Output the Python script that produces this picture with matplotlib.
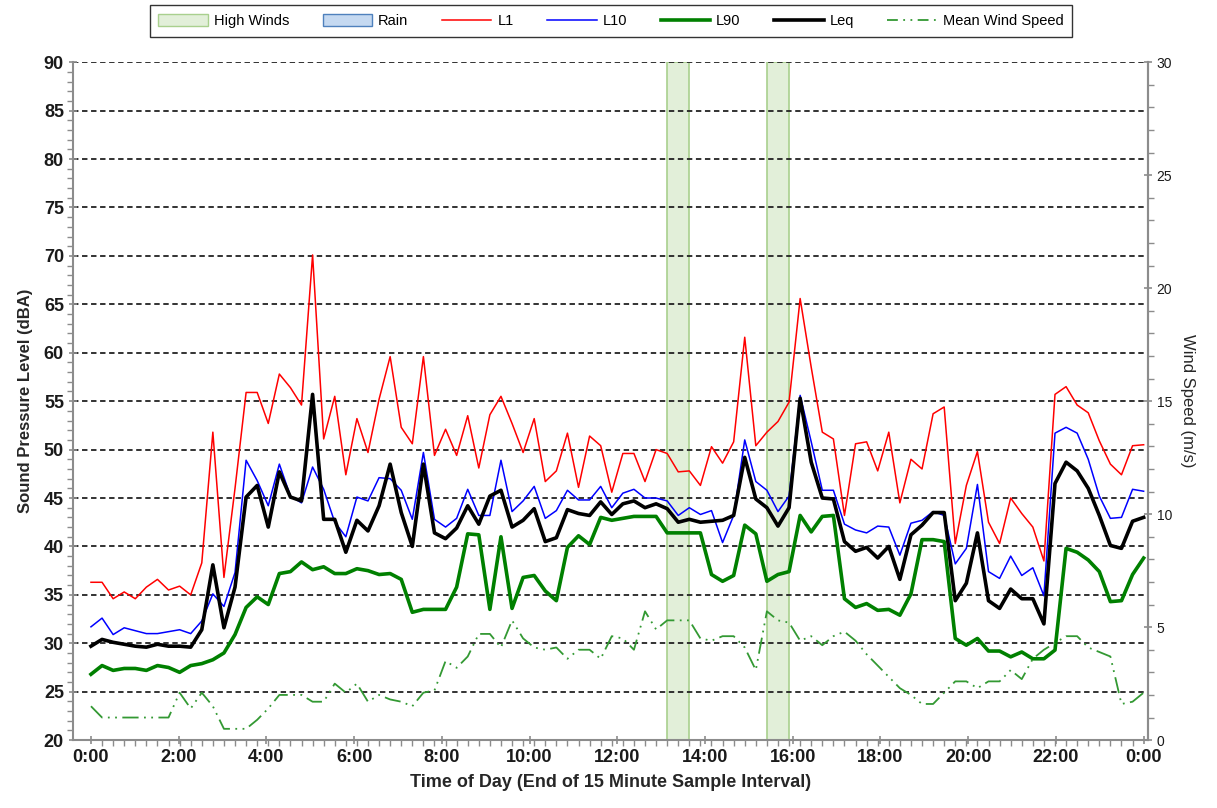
import numpy as np
import matplotlib.pyplot as plt
from matplotlib.patches import Patch
from matplotlib.lines import Line2D
from matplotlib.ticker import MultipleLocator

# -----------------------------
# Global style
# -----------------------------
plt.rcParams["font.family"] = ["Liberation Sans", "DejaVu Sans"]

# -----------------------------
# Data: 96 x 15-minute samples
# -----------------------------
L1 = [36.3, 36.3, 34.6, 35.3, 34.6, 35.8, 36.6, 35.5, 35.9, 35.0, 38.3, 51.8, 36.8, 46.0, 55.9, 55.9,
      52.7, 57.8, 56.4, 54.6, 70.1, 51.1, 55.5, 47.4, 53.2, 49.7, 55.2, 59.6, 52.3, 50.6, 59.6, 49.4,
      52.1, 49.4, 53.5, 48.1, 53.6, 55.5, 52.7, 49.7, 53.2, 46.7, 47.8, 51.7, 46.1, 51.4, 50.4, 45.6,
      49.6, 49.6, 46.7, 50.0, 49.6, 47.7, 47.8, 46.3, 50.3, 48.6, 50.8, 61.6, 50.4, 51.8, 52.9, 54.9,
      65.6, 58.5, 51.8, 51.1, 43.2, 50.6, 50.8, 47.8, 51.8, 44.5, 49.0, 48.0, 53.7, 54.4, 40.3, 46.3,
      49.8, 42.5, 40.3, 45.0, 43.4, 42.0, 38.5, 55.7, 56.5, 54.6, 53.8, 50.9, 48.5, 47.4, 50.4, 50.5]

L10 = [31.7, 32.6, 30.9, 31.6, 31.3, 31.0, 31.0, 31.2, 31.4, 31.0, 32.3, 35.1, 33.8, 37.3, 48.9, 46.8,
       44.2, 48.5, 45.2, 44.5, 48.2, 45.9, 42.5, 41.0, 45.1, 44.7, 47.1, 47.0, 45.8, 42.8, 49.7, 42.8,
       42.0, 42.9, 45.9, 43.2, 43.2, 48.9, 43.6, 44.7, 46.2, 42.9, 43.7, 45.8, 44.8, 44.8, 46.2, 44.0,
       45.5, 45.9, 45.0, 45.0, 44.7, 43.2, 44.0, 43.3, 43.7, 40.4, 43.2, 51.0, 46.7, 45.8, 43.6, 45.2,
       55.6, 50.8, 45.8, 45.8, 42.3, 41.7, 41.4, 42.1, 42.0, 39.1, 42.4, 42.7, 43.6, 43.2, 38.2, 39.8,
       46.4, 37.4, 36.7, 39.0, 37.0, 37.8, 34.9, 51.7, 52.3, 51.7, 49.0, 45.2, 42.9, 43.0, 45.9, 45.7]

L90 = [26.8, 27.7, 27.2, 27.4, 27.4, 27.2, 27.7, 27.5, 27.0, 27.7, 27.9, 28.3, 29.0, 30.9, 33.7, 34.8,
       34.0, 37.2, 37.4, 38.4, 37.6, 37.9, 37.2, 37.2, 37.7, 37.5, 37.1, 37.2, 36.6, 33.2, 33.5, 33.5,
       33.5, 35.8, 41.3, 41.2, 33.5, 41.0, 33.6, 36.8, 37.0, 35.4, 34.4, 39.9, 41.1, 40.2, 43.0, 42.7,
       42.9, 43.1, 43.1, 43.1, 41.4, 41.4, 41.4, 41.4, 37.1, 36.4, 37.0, 42.2, 41.3, 36.4, 37.1, 37.4,
       43.2, 41.5, 43.1, 43.2, 34.6, 33.7, 34.1, 33.4, 33.5, 32.9, 35.1, 40.7, 40.7, 40.5, 30.5, 29.8,
       30.5, 29.2, 29.2, 28.6, 29.1, 28.4, 28.4, 29.3, 39.8, 39.4, 38.6, 37.4, 34.3, 34.4, 37.1, 38.8]

Leq = [29.7, 30.4, 30.1, 29.9, 29.7, 29.6, 29.9, 29.7, 29.7, 29.6, 31.4, 38.1, 31.6, 35.8, 45.1, 46.3,
       42.0, 47.7, 45.1, 44.7, 55.7, 42.8, 42.8, 39.4, 42.7, 41.6, 44.2, 48.5, 43.5, 40.0, 48.5, 41.4,
       40.8, 41.9, 44.2, 42.3, 45.2, 45.8, 42.0, 42.7, 43.9, 40.5, 40.9, 43.8, 43.4, 43.2, 44.6, 43.3,
       44.4, 44.7, 44.0, 44.4, 43.9, 42.5, 42.8, 42.5, 42.6, 42.7, 43.2, 49.2, 44.9, 44.0, 42.1, 44.0,
       55.3, 48.7, 45.0, 44.9, 40.5, 39.5, 39.9, 38.8, 40.0, 36.6, 41.2, 42.2, 43.5, 43.5, 34.4, 36.2,
       41.4, 34.4, 33.6, 35.6, 34.6, 34.6, 32.0, 46.5, 48.7, 47.8, 46.0, 43.2, 40.1, 39.8, 42.6, 43.0]

wind_speed = [1.5, 1.0, 1.0, 1.0, 1.0, 1.0, 1.0, 1.0, 2.1, 1.4, 2.1, 1.5, 0.5, 0.5, 0.5, 0.9,
              1.4, 2.0, 2.0, 2.0, 1.7, 1.7, 2.5, 2.1, 2.5, 1.7, 2.0, 1.8, 1.7, 1.5, 2.1, 2.2,
              3.5, 3.2, 3.7, 4.7, 4.7, 4.1, 5.3, 4.5, 4.1, 4.0, 4.1, 3.6, 4.0, 4.0, 3.6, 4.6,
              4.5, 4.0, 5.7, 4.9, 5.3, 5.3, 5.3, 4.5, 4.4, 4.6, 4.6, 4.1, 3.1, 5.7, 5.3, 5.2,
              4.4, 4.6, 4.2, 4.6, 4.8, 4.4, 3.8, 3.3, 2.8, 2.3, 2.0, 1.6, 1.6, 2.1, 2.6, 2.6,
              2.3, 2.6, 2.6, 3.1, 2.7, 3.6, 4.0, 4.3, 4.6, 4.6, 4.1, 3.9, 3.7, 1.6, 1.7, 2.1]

# samples flagged as high wind (start, end sample index)
high_wind_samples = [(52, 54), (61, 63)]

time_labels = ["0:00", "2:00", "4:00", "6:00", "8:00", "10:00", "12:00",
               "14:00", "16:00", "18:00", "20:00", "22:00", "0:00"]
label_hours = [0, 2, 4, 6, 8, 10, 12, 14, 16, 18, 20, 22, 24]

n = len(L1)
x = np.arange(n)

# -----------------------------
# Plot
# -----------------------------
fig = plt.figure(figsize=(12.17, 8.08), dpi=100)
ax = fig.add_axes([0.060, 0.084, 0.883, 0.839])

for s, e in high_wind_samples:
    ax.axvspan(s, e, facecolor="#e2efd9", edgecolor="#a9d08e", linewidth=1.2, zorder=0.2)

ax.plot(x, L1, color="#ff0000", linewidth=1.1, zorder=3)
ax.plot(x, L10, color="#0000ff", linewidth=1.1, zorder=3)
ax.plot(x, L90, color="#008000", linewidth=2.6, zorder=3)
ax.plot(x, Leq, color="#000000", linewidth=2.6, zorder=4)

ax.set_ylim(20, 90)
ax.set_xlim(-1.62, n - 1 + 0.36)
ax.yaxis.set_major_locator(MultipleLocator(5))
ax.yaxis.set_minor_locator(MultipleLocator(1))
ax.grid(axis="y", color="#222222", linestyle=(0, (3, 2)), linewidth=1.3)
ax.set_axisbelow(True)

tick_pos = [h / 24 * (n - 1) for h in label_hours]
ax.set_xticks(tick_pos)
ax.set_xticklabels(time_labels)
ax.set_xticks(x, minor=True)

for sp in ["left", "bottom", "right"]:
    ax.spines[sp].set_color("#8c8c8c")
    ax.spines[sp].set_linewidth(1.5)
ax.spines["top"].set_visible(False)

ax.tick_params(axis="both", which="major", labelsize=13, colors="#8c8c8c",
               labelcolor="#1a1a1a", length=6, width=1.2, direction="inout")
ax.tick_params(axis="both", which="minor", colors="#8c8c8c", length=4, width=1.0, direction="out")
for lbl in ax.get_xticklabels() + ax.get_yticklabels():
    lbl.set_fontweight("bold")

ax.set_xlabel("Time of Day (End of 15 Minute Sample Interval)", fontsize=13,
              fontweight="bold", color="#262626", labelpad=6)
ax.set_ylabel("Sound Pressure Level (dBA)", fontsize=12, fontweight="bold",
              color="#262626", labelpad=8)

# -----------------------------
# Right axis: wind speed
# -----------------------------
ax2 = ax.twinx()
ax2.plot(x, wind_speed, color="#339933", linewidth=1.3,
         linestyle=(0, (9, 3, 1, 3, 1, 3)), zorder=3)
ax2.set_ylim(0, 30)
ax2.yaxis.set_major_locator(MultipleLocator(5))
ax2.yaxis.set_minor_locator(MultipleLocator(1))
ax2.spines["right"].set_color("#8c8c8c")
ax2.spines["right"].set_linewidth(1.5)
for sp in ["left", "top", "bottom"]:
    ax2.spines[sp].set_visible(False)
ax2.tick_params(axis="y", which="major", labelsize=10, colors="#8c8c8c",
                labelcolor="#1a1a1a", length=6, width=1.2, direction="inout")
ax2.tick_params(axis="y", which="minor", colors="#8c8c8c", length=4, width=1.0, direction="out")
ax2.set_ylabel("Wind Speed (m/s)", fontsize=12, color="#262626", rotation=270, labelpad=16)

# -----------------------------
# Legend
# -----------------------------
handles = [
    Patch(facecolor="#e2efd9", edgecolor="#a9d08e", label="High Winds"),
    Patch(facecolor="#c5d9f1", edgecolor="#4f81bd", label="Rain"),
    Line2D([], [], color="#ff0000", linewidth=1.1, label="L1"),
    Line2D([], [], color="#0000ff", linewidth=1.1, label="L10"),
    Line2D([], [], color="#008000", linewidth=2.6, label="L90"),
    Line2D([], [], color="#000000", linewidth=2.6, label="Leq"),
    Line2D([], [], color="#339933", linewidth=1.3, linestyle=(0, (6, 3, 1, 3, 1, 3)),
           label="Mean Wind Speed"),
]
leg = fig.legend(handles=handles, loc="center", bbox_to_anchor=(0.502, 0.974), ncol=7,
                 fontsize=10.5, frameon=True, fancybox=False, handlelength=3.4,
                 handleheight=0.8, columnspacing=2.3, handletextpad=0.4,
                 borderpad=0.6)
leg.get_frame().set_edgecolor("#000000")
leg.get_frame().set_linewidth(1.0)

fig.savefig("out.png", dpi=100)
